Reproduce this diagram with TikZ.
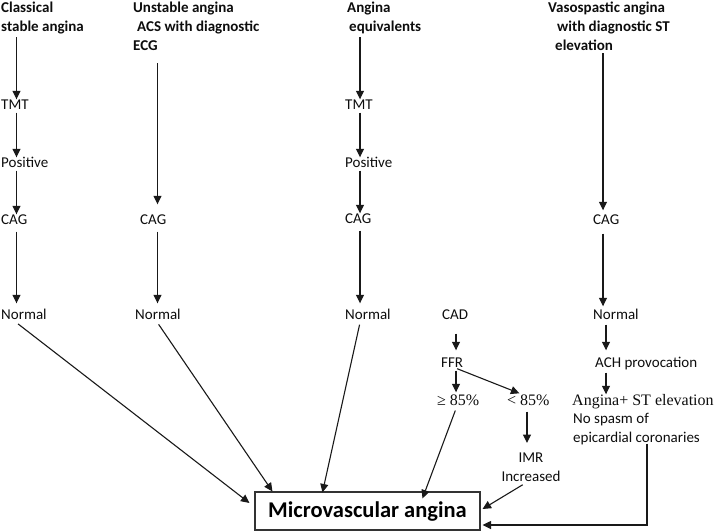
\documentclass[tikz,border=0pt]{standalone}
\usepackage{fontspec}
\setmainfont{Carlito}
\newfontfamily\serf{Liberation Serif}
\usetikzlibrary{arrows.meta,calc}
\begin{document}
\begin{tikzpicture}[x=1pt,y=-1pt,
  lbl/.style={inner sep=0pt, anchor=west, yshift=-2pt, text=black!95, font=\fontsize{15}{19}\selectfont, text height=10pt, text depth=3pt},
  hdr/.style={inner sep=0pt, anchor=north west, align=left, text=black!95, font=\fontsize{15}{19}\selectfont\bfseries},
  mlt/.style={inner sep=0pt, text=black!95, font=\fontsize{15}{19}\selectfont},
  srf/.style={lbl, font=\fontsize{16}{19}\serf},
  arr/.style={draw=black!90, line width=1.1pt, -{Triangle[length=8.5pt,width=8pt]}},
  ]
\useasboundingbox (0,0) rectangle (714,531);
% column coordinates
\coordinate (c1) at (16.5,0);
\coordinate (c2) at (157.5,0);
\coordinate (c3) at (360,0);
\coordinate (c4) at (603,0);
\coordinate (c5) at (456,0);
\coordinate (c6) at (527,0);
\coordinate (c7) at (606,0);
\coordinate (c8) at (647,0);
% headers
\node[hdr] (h1) at (1,2) {Classical\\stable angina};
\node[hdr] (h2) at (133,2) {Unstable angina\\\hspace*{4pt}ACS with diagnostic\\ECG};
\node[hdr] (h3) at (347,2) {Angina\\\hspace*{2pt}equivalents};
\node[hdr] (h4) at (548,2) {Vasospastic angina\\\hspace*{9pt}with diagnostic ST\\\hspace*{7pt}elevation};
% column 1
\node[lbl] (tmt1) at (1,104) {TMT};
\node[lbl] (pos1) at (1,162) {Positive};
\node[lbl] (cag1) at (1,219) {CAG};
\node[lbl] (nor1) at (1,314) {Normal};
% column 2
\node[lbl] (cag2) at (140,219) {CAG};
\node[lbl] (nor2) at (135,314) {Normal};
% column 3
\node[lbl] (tmt3) at (345,104) {TMT};
\node[lbl] (pos3) at (345,162) {Positive};
\node[lbl] (cag3) at (345,218) {CAG};
\node[lbl] (nor3) at (345,314) {Normal};
% column 4
\node[lbl] (cag4) at (593,219) {CAG};
\node[lbl] (nor4) at (593,314) {Normal};
\node[lbl] (ach) at (595,362) {ACH provocation};
\node[srf] (ast) at (572,400) {Angina+ ST elevation};
\node[mlt, anchor=north west, align=left] (nsp) at (573,413.5) {No spasm of\\epicardial coronaries};
% CAD branch
\node[lbl] (cad) at (442,314) {CAD};
\node[lbl] (ffr) at (441,362) {FFR};
\node[srf] (ge) at (437,400) {≥ 85\%};
\node[srf] (lt) at (507,400) {< 85\%};
\node[mlt, anchor=north, align=center] (imr) at (531,453) {IMR\\Increased};
% result box
\node[draw=black!80, line width=1.1pt, minimum width=225pt, minimum height=38pt, inner sep=0pt,
  text=black, font=\fontsize{22.5}{27}\selectfont\bfseries] (mva) at (367.5,511) {Microvascular angina};
% arrows column 1
\draw[arr, shorten <=3pt] (h1.south -| c1) -- (tmt1.north -| c1);
\draw[arr] (tmt1.south -| c1) -- (pos1.north -| c1);
\draw[arr] (pos1.south -| c1) -- (cag1.north -| c1);
\draw[arr, shorten <=4pt, shorten >=6pt] (cag1.south -| c1) -- (nor1.north -| c1);
% column 2
\draw[arr, shorten <=12pt, shorten >=10pt] (h2.south -| c2) -- (cag2.north -| c2);
\draw[arr, shorten <=4pt, shorten >=6pt] (cag2.south -| c2) -- (nor2.north -| c2);
% column 3
\draw[arr, shorten <=3pt] (h3.south -| c3) -- (tmt3.north -| c3);
\draw[arr] (tmt3.south -| c3) -- (pos3.north -| c3);
\draw[arr] (pos3.south -| c3) -- (cag3.north -| c3);
\draw[arr, shorten <=4pt, shorten >=6pt] (cag3.south -| c3) -- (nor3.north -| c3);
% column 4
\draw[arr, shorten <=2pt, shorten >=4pt] (h4.south -| c4) -- (cag4.north -| c4);
\draw[arr, shorten <=6pt, shorten >=3pt] (cag4.south -| c4) -- (nor4.north -| c4);
\draw[arr, shorten <=2pt, shorten >=7pt] (nor4.south -| c7) -- (ach.north -| c7);
\draw[arr, shorten <=2pt, shorten >=1pt] (ach.south -| c7) -- (ast.north -| c7);
% CAD branch
\draw[arr, shorten <=11pt, shorten >=7pt] (cad.south -| c5) -- (ffr.north -| c5);
\draw[arr, shorten >=3pt] (ffr.south -| c5) -- (ge.north -| c5);
\draw[arr] ([xshift=5pt,yshift=2pt]ffr.south) -- ([xshift=-9pt,yshift=2pt]lt.north);
\draw[arr, shorten <=3pt, shorten >=10pt] (lt.south -| c6) -- (imr.north -| c6);
% into the box
\draw[arr, shorten <=2pt] (nor1.south -| c1) -- ([xshift=-5pt,yshift=8pt]mva.west);
\draw[arr, shorten <=2pt] (nor2.south -| c2) -- ([xshift=18pt]mva.north west);
\draw[arr, shorten <=2pt] (nor3.south -| c3) -- ([xshift=68pt,yshift=-1pt]mva.north west);
\draw[arr, shorten <=2pt] (ge.south -| c5) -- ([xshift=168pt,yshift=-7pt]mva.north west);
\draw[arr, shorten <=5pt] (imr.south -| c6) -- ([xshift=2pt,yshift=2pt]mva.east);
\draw[arr] ([yshift=2pt]nsp.south -| c8) |- ([xshift=2pt,yshift=-14pt]mva.east);
\end{tikzpicture}
\end{document}
